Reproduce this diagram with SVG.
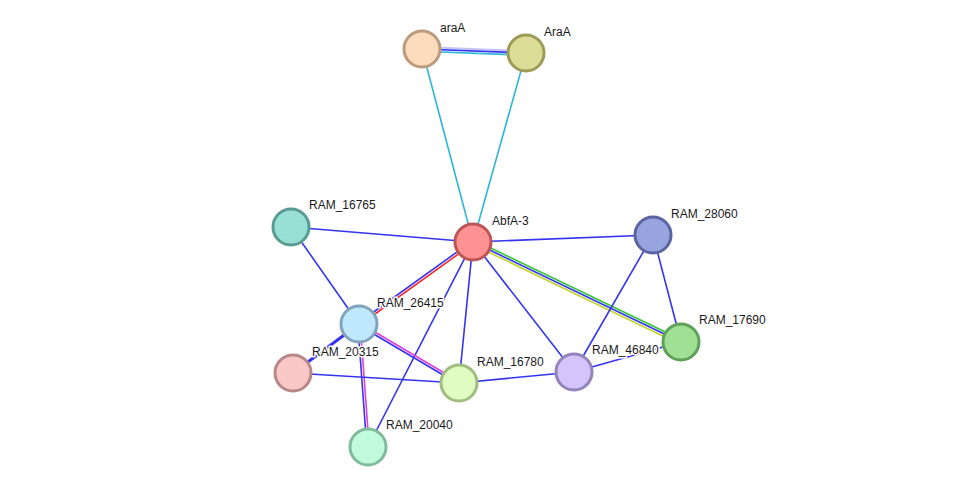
<svg xmlns="http://www.w3.org/2000/svg" width="976" height="492" viewBox="0 0 976 492">
  <style>
    .e { stroke-width: 1.6; fill: none; }
    .blue { stroke: #3434f0; }
    .cyan { stroke: #2fb6d4; }
    .lav { stroke: #c4c4f8; stroke-width: 2; }
    .green { stroke: #33c433; }
    .olive { stroke: #c4d430; }
    .red { stroke: #f02c2c; }
    .mag { stroke: #de3ede; }
    .node circle { stroke-width: 3; }
    .node text { font-family: "Liberation Sans", Arial, sans-serif; font-size: 12px; fill: #1a1a1a;
                 stroke: #ffffff; stroke-width: 3; stroke-linejoin: round; paint-order: stroke; }
  </style>
  <rect width="976" height="492" fill="#ffffff"/>

  <g id="connectors">
    <!-- araA - AraA (three evidence lines) -->
    <line class="e lav" x1="422" y1="47" x2="526" y2="51"/>
    <line class="e blue" x1="422" y1="49" x2="526" y2="53"/>
    <line class="e cyan" x1="422" y1="51.2" x2="526" y2="55.2"/>
    <!-- araA / AraA - AbfA-3 -->
    <line class="e cyan" x1="422" y1="49" x2="473" y2="242"/>
    <line class="e cyan" x1="526" y1="53" x2="473" y2="242"/>
    <!-- AbfA-3 hub -->
    <line class="e blue" x1="291" y1="227" x2="473" y2="242"/>
    <line class="e blue" x1="473" y1="242" x2="653" y2="235"/>
    <line class="e green" x1="474" y1="240" x2="682" y2="340"/>
    <line class="e blue" x1="473" y1="242" x2="681" y2="342"/>
    <line class="e olive" x1="472" y1="244.2" x2="680" y2="344.2"/>
    <line class="e blue" x1="472.3" y1="241" x2="358.3" y2="323"/>
    <line class="e red" x1="473.7" y1="243" x2="359.7" y2="325"/>
    <line class="e blue" x1="473" y1="242" x2="459" y2="383"/>
    <line class="e blue" x1="473" y1="242" x2="574" y2="372"/>
    <line class="e blue" x1="473" y1="242" x2="368" y2="447"/>
    <!-- RAM_26415 neighbours -->
    <line class="e blue" x1="291" y1="227" x2="359" y2="324"/>
    <line class="e blue" x1="359" y1="324" x2="293" y2="373" style="stroke-width:3"/>
    <line class="e mag" x1="359.6" y1="323" x2="459.6" y2="382"/>
    <line class="e blue" x1="358.4" y1="325" x2="458.4" y2="384"/>
    <line class="e blue" x1="357.8" y1="324" x2="366.8" y2="447"/>
    <line class="e mag" x1="360.2" y1="324" x2="369.2" y2="447"/>
    <!-- lower ring -->
    <line class="e blue" x1="293" y1="373" x2="459" y2="383"/>
    <line class="e blue" x1="459" y1="383" x2="574" y2="372"/>
    <line class="e blue" x1="574" y1="372" x2="653" y2="235"/>
    <line class="e blue" x1="574" y1="372" x2="681" y2="342"/>
    <line class="e blue" x1="653" y1="235" x2="681" y2="342"/>
  </g>

  <g id="araA" class="node">
    <circle cx="422" cy="49" r="18" fill="#fddcbe" stroke="#bc9a7c"/>
    <text x="440" y="32">araA</text>
  </g>
  <g id="AraA" class="node">
    <circle cx="526" cy="53" r="18" fill="#dcdc96" stroke="#9c9c58"/>
    <text x="544" y="36">AraA</text>
  </g>
  <g id="AbfA-3" class="node">
    <circle cx="473" cy="242" r="18" fill="#fe9292" stroke="#bc5656"/>
    <text x="492" y="225">AbfA-3</text>
  </g>
  <g id="RAM_16765" class="node">
    <circle cx="291" cy="227" r="18" fill="#98e0d6" stroke="#5a9c94"/>
    <text x="309" y="209">RAM_16765</text>
  </g>
  <g id="RAM_28060" class="node">
    <circle cx="653" cy="235" r="18" fill="#98a4e0" stroke="#5a64a0"/>
    <text x="671" y="218">RAM_28060</text>
  </g>
  <g id="RAM_26415" class="node">
    <circle cx="359" cy="324" r="18" fill="#c0e8fc" stroke="#80a4bc"/>
    <text x="377" y="307">RAM_26415</text>
  </g>
  <g id="RAM_17690" class="node">
    <circle cx="681" cy="342" r="18" fill="#a0e094" stroke="#60a05a"/>
    <text x="699" y="324">RAM_17690</text>
  </g>
  <g id="RAM_20315" class="node">
    <circle cx="293" cy="373" r="18" fill="#f8c8c8" stroke="#b88888"/>
    <text x="312" y="356">RAM_20315</text>
  </g>
  <g id="RAM_16780" class="node">
    <circle cx="459" cy="383" r="18" fill="#e0fcc0" stroke="#a0bc80"/>
    <text x="477" y="366">RAM_16780</text>
  </g>
  <g id="RAM_46840" class="node">
    <circle cx="574" cy="372" r="18" fill="#d4c4fc" stroke="#9484bc"/>
    <text x="592" y="354">RAM_46840</text>
  </g>
  <g id="RAM_20040" class="node">
    <circle cx="368" cy="447" r="18" fill="#c0fcdc" stroke="#80bc9c"/>
    <text x="386" y="429">RAM_20040</text>
  </g>
</svg>
